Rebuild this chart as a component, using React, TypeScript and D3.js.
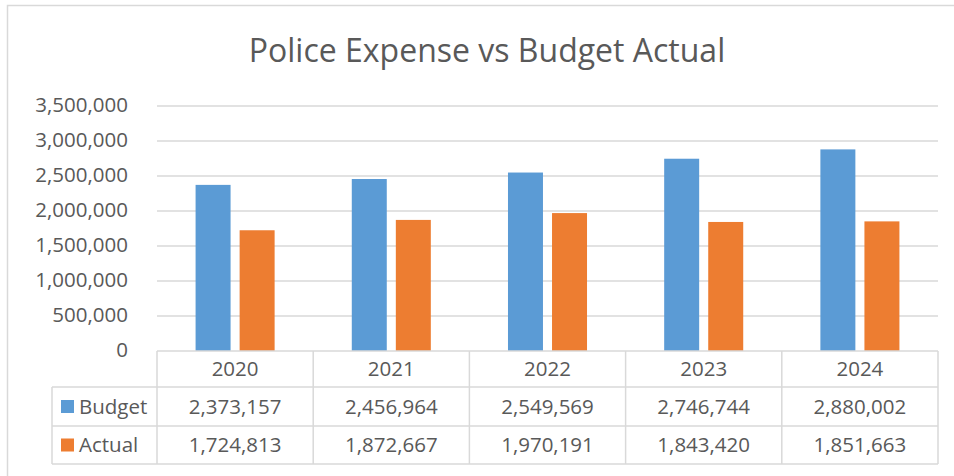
import React from "react";
import * as d3 from "d3";

const years = ["2020", "2021", "2022", "2023", "2024"];
const budget = [2373157, 2456964, 2549569, 2746744, 2880002];
const actual = [1724813, 1872667, 1970191, 1843420, 1851663];
const seriesNames = ["Budget", "Actual"];
const yTicks = [0, 500000, 1000000, 1500000, 2000000, 2500000, 3000000, 3500000];
const title = "Police Expense vs Budget Actual";

const W = 954;
const H = 476;
const colors = ["#5B9BD5", "#ED7D31"];
const grid = "#D9D9D9";
const txt = "#595959";
const font = "'Open Sans', sans-serif";
const fs = 20.5;

export default function App() {
  const left = 157;
  const right = 938;
  const top = 106;
  const bottom = 351;
  const legendLeft = 52;
  const rowBounds = [351, 387, 426, 464];

  const x = d3.scaleBand<string>().domain(years).range([left, right]).padding(0);
  const y = d3.scaleLinear().domain([0, 3500000]).range([bottom, top]);
  const bw = x.bandwidth();
  const barW = bw * 0.224;
  const gap = bw * 0.058;
  const fmt = d3.format(",");
  const series = [budget, actual];

  return (
    <div style={{ position: "absolute", left: 0, top: 0, width: W, height: H, background: "#fff" }}>
      <svg width={W} height={H} style={{ display: "block" }}>
        <rect x={7.5} y={5.5} width={W + 10} height={H + 10} fill="#fff" stroke={grid} strokeWidth={1.5} />
        <text x={487} y={62} textAnchor="middle" fontFamily={font} fontSize={32} fill={txt}>
          {title}
        </text>
        {yTicks.map((t) => (
          <g key={t}>
            {t > 0 && <line x1={left} x2={right} y1={y(t)} y2={y(t)} stroke={grid} strokeWidth={1.5} />}
            <text x={128} y={y(t) - 1} dy="0.36em" textAnchor="end" fontFamily={font} fontSize={fs} fill={txt}>
              {fmt(t)}
            </text>
          </g>
        ))}
        {years.map((yr, i) => (
          <g key={yr}>
            {series.map((s, k) => {
              const cx = (x(yr) as number) + bw / 2;
              const bx = k === 0 ? cx - gap / 2 - barW : cx + gap / 2;
              return (
                <rect key={k} x={bx} y={y(s[i])} width={barW} height={y(0) - y(s[i])} fill={colors[k]} />
              );
            })}
          </g>
        ))}
        {/* table */}
        <line x1={left} x2={right} y1={rowBounds[0]} y2={rowBounds[0]} stroke={grid} strokeWidth={1.5} />
        {rowBounds.slice(1).map((r) => (
          <line key={r} x1={legendLeft} x2={right} y1={r} y2={r} stroke={grid} strokeWidth={1.5} />
        ))}
        <line x1={legendLeft} x2={legendLeft} y1={rowBounds[1]} y2={rowBounds[3]} stroke={grid} strokeWidth={1.5} />
        {years.map((yr) => (
          <line key={yr} x1={x(yr) as number} x2={x(yr) as number} y1={rowBounds[0]} y2={rowBounds[3]} stroke={grid} strokeWidth={1.5} />
        ))}
        <line x1={right} x2={right} y1={rowBounds[0]} y2={rowBounds[3]} stroke={grid} strokeWidth={1.5} />
        {years.map((yr) => (
          <text key={yr} x={(x(yr) as number) + bw / 2} y={(rowBounds[0] + rowBounds[1]) / 2} dy="0.36em" textAnchor="middle" fontFamily={font} fontSize={fs} fill={txt}>
            {yr}
          </text>
        ))}
        {series.map((s, k) => {
          const cy = (rowBounds[k + 1] + rowBounds[k + 2]) / 2;
          return (
            <g key={k}>
              <rect x={61} y={cy - 6.5} width={13} height={13} fill={colors[k]} />
              <text x={79} y={cy} dy="0.36em" fontFamily={font} fontSize={fs} fill={txt}>
                {seriesNames[k]}
              </text>
              {s.map((v, i) => (
                <text key={i} x={(x(years[i]) as number) + bw / 2} y={cy} dy="0.36em" textAnchor="middle" fontFamily={font} fontSize={fs} fill={txt}>
                  {fmt(v)}
                </text>
              ))}
            </g>
          );
        })}
      </svg>
    </div>
  );
}
